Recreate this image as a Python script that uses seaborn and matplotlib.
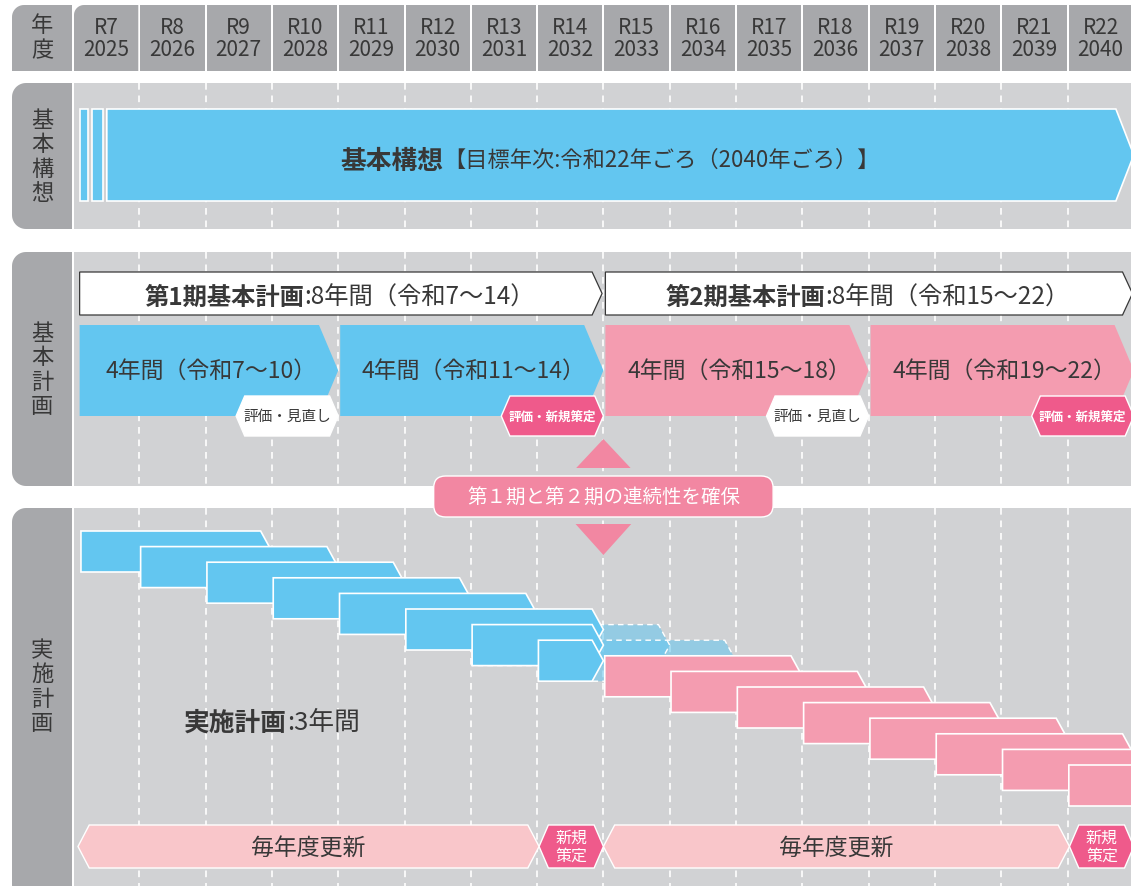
import numpy as np
import matplotlib
matplotlib.use('Agg')
import matplotlib.pyplot as plt
from matplotlib.patches import Polygon, FancyBboxPatch
import seaborn as sns

# ---- data ----
reiwa_years = list(range(7, 23))
western_years = list(range(2025, 2041))

vision_title = '基本構想'
vision_note = '【目標年次:令和22年ごろ（2040年ごろ）】'

phase_names = ['第1期基本計画', '第2期基本計画']
phase_notes = [':8年間（令和7〜14）', ':8年間（令和15〜22）']
phase_spans = [(7, 14), (15, 22)]

sub_spans = [(7, 10), (11, 14), (15, 18), (19, 22)]
sub_labels = ['4年間（令和7〜10）', '4年間（令和11〜14）', '4年間（令和15〜18）', '4年間（令和19〜22）']
sub_badges = ['評価・見直し', '評価・新規策定', '評価・見直し', '評価・新規策定']

impl_starts = list(range(7, 23))
impl_years = 3
first_period_end = 14

update_spans = [(7, 13), (15, 21)]
new_plan_years = [14, 22]

row_labels = ['基本構想', '基本計画', '実施計画']

# ---- colours ----
GRAY_DARK = '#a7a8ab'
GRAY_BG = '#d1d2d4'
BLUE = '#63c6f0'
PINK = '#f49cb0'
PINK_STRONG = '#ef5a8b'
PINK_LIGHT = '#f9c6ca'
PINK_MID = '#f287a2'
TEXT = '#383838'

sns.set_theme(style='white')
plt.rcParams['font.family'] = ['Noto Sans CJK JP', 'DejaVu Sans']

X0, CW = 73, 66.3  # pixel origin and width of one year column


def px2x(p):
    return (p - X0) / CW


def col(r):
    return r - reiwa_years[0]


fig = plt.figure(figsize=(11.31, 8.87), dpi=100)
ax = fig.add_axes([0, 0, 1, 1])
ax.set_xlim(px2x(0), px2x(1131))
ax.set_ylim(887, 0)
ax.axis('off')


def poly(pts, **kw):
    ax.add_patch(Polygon(pts, closed=True, **kw))


def pent(x0, x1, y0, y1, tip, **kw):
    ym = (y0 + y1) / 2
    poly([(x0, y0), (x1 - tip, y0), (x1, ym), (x1 - tip, y1), (x0, y1)], **kw)


def hexa(x0, x1, y0, y1, s, **kw):
    ym = (y0 + y1) / 2
    poly([(x0, ym), (x0 + s, y0), (x1 - s, y0), (x1, ym), (x1 - s, y1), (x0 + s, y1)], **kw)


def rbox(p0, p1, y0, y1, rtl=0, rbl=0, **kw):
    # rounded-left box given in pixels
    t = np.linspace(0, np.pi / 2, 12)
    pts = [(p1, y0)]
    if rtl:
        pts += list(zip(p0 + rtl - rtl * np.sin(t), y0 + rtl - rtl * np.cos(t)))
    else:
        pts.append((p0, y0))
    if rbl:
        pts += list(zip(p0 + rbl - rbl * np.cos(t), y1 - rbl + rbl * np.sin(t)))
    else:
        pts.append((p0, y1))
    pts.append((p1, y1))
    poly([(px2x(a), b) for a, b in pts], **kw)


def mixed_text(xc, y, parts, zorder=10):
    r = fig.canvas.get_renderer()
    widths = []
    for s, kw in parts:
        t = ax.text(0, y, s, **kw)
        widths.append(t.get_window_extent(r).width)
        t.remove()
    start = ax.transData.transform((xc, y))[0] - sum(widths) / 2
    for (s, kw), w in zip(parts, widths):
        xd = ax.transData.inverted().transform((start, 0))[0]
        ax.text(xd, y, s, ha='left', va='center_baseline', zorder=zorder, **kw)
        start += w


def vlabel(text, yc, step=24.5, size=16):
    n = len(text)
    for i, ch in enumerate(text):
        ax.text(px2x(42), yc + (i - (n - 1) / 2) * step, ch, ha='center', va='center',
                fontsize=size, color=TEXT, zorder=10)


# ---- header ----
rbox(12, 72, 6, 72, rtl=12, fc=GRAY_DARK, ec='none', zorder=1)
vlabel('年度', 38, step=25)
for i, (r, y) in enumerate(zip(reiwa_years, western_years)):
    rbox(X0 + i * CW + 1, X0 + (i + 1) * CW - 1, 6, 72, rtl=10 if i == 0 else 0,
         fc=GRAY_DARK, ec='none', zorder=1)
    ax.text(i + 0.5, 28, f'R{r}', ha='center', va='center', fontsize=15, color=TEXT)
    ax.text(i + 0.5, 50, str(y), ha='center', va='center', fontsize=15, color=TEXT)

# ---- panels ----
panels = [(84, 230), (253, 487), (509, 900)]
label_centres = [157, 370, 687]
for (top, bot), lab, yc in zip(panels, row_labels, label_centres):
    rbox(12, 72, top, bot, rtl=14, rbl=14, fc=GRAY_DARK, ec='none', zorder=1)
    rbox(74, 1135, top, bot, fc=GRAY_BG, ec='none', zorder=1)
    ax.vlines(range(1, 16), top, bot, colors='white', linestyles=(0, (4, 3.5)),
              lw=1.2, zorder=1.5)
    vlabel(lab, yc)

# ---- row 1: basic vision ----
vy0, vy1 = 110, 202
pent(0.51, 16.0, vy0, vy1, 0.27, fc=BLUE, ec='white', lw=1.2, zorder=2)
for a, b in [(0.106, 0.226), (0.287, 0.452)]:
    poly([(a, vy0), (b, vy0), (b, vy1), (a, vy1)], fc=BLUE, ec='white', lw=1.2, zorder=2)
mixed_text(8.1, 158, [(vision_title, dict(fontsize=18.5, fontweight='bold', color=TEXT)),
                      (vision_note, dict(fontsize=16, color=TEXT))])

# ---- row 2: basic plans ----
for k, ((a, b), name, note) in enumerate(zip(phase_spans, phase_names, phase_notes)):
    x0 = 0.1 if k == 0 else col(a) + 0.03
    x1 = min(col(b) + 1 - 0.02, 16.0)
    pent(x0, x1, 273, 316, 0.15, fc='white', ec=TEXT, lw=0.9, zorder=2)
    mixed_text((x0 + x1) / 2 - 0.02, 295,
               [(name, dict(fontsize=17.5, fontweight='bold', color=TEXT)),
                (note, dict(fontsize=17.5, color=TEXT))])

for k, ((a, b), lab, badge) in enumerate(zip(sub_spans, sub_labels, sub_badges)):
    colr = BLUE if b <= first_period_end else PINK
    x0 = 0.1 if k == 0 else col(a) + 0.03
    x1 = col(b) + 1
    pent(x0, x1, 326, 417, 0.29, fc=colr, ec='none', zorder=2)
    ax.text((x0 + x1) / 2 + 0.03, 371, lab, ha='center', va='center', fontsize=16.5,
            color=TEXT, zorder=10)
    strong = '新規' in badge
    hexa(x1 - 1.54, x1, 397, 437, 0.13, fc=PINK_STRONG if strong else 'white',
         ec='white', lw=1, zorder=3)
    ax.text(x1 - 0.77, 417, badge, ha='center', va='center',
            fontsize=9 if strong else 10.5, fontweight='bold' if strong else 'normal',
            color='white' if strong else TEXT, zorder=10)

# continuity marker
cx = col(first_period_end) + 1
poly([(cx - 0.41, 469), (cx, 440), (cx + 0.41, 469)], fc=PINK_MID, ec='none', zorder=4)
poly([(cx - 0.42, 525), (cx, 556), (cx + 0.42, 525)], fc=PINK_MID, ec='none', zorder=4)
ax.add_patch(FancyBboxPatch((cx - 2.56, 477), 5.12, 41,
                            boxstyle=f'round,pad=0,rounding_size={12 / CW}',
                            mutation_aspect=CW, fc=PINK_MID, ec='white', lw=1, zorder=4))
ax.text(cx, 497.5, '第１期と第２期の連続性を確保', ha='center', va='center',
        fontsize=14, color='white', zorder=10)

# ---- row 3: implementation plans ----
IMPL_TOP, IMPL_STEP, IMPL_H = 532, 15.6, 41
end_x = col(first_period_end) + 1
for k, s in enumerate(impl_starts):
    x0 = 0.12 if k == 0 else col(s) + 0.02
    x1 = col(s) + impl_years
    y0 = IMPL_TOP + IMPL_STEP * k
    if s <= first_period_end and x1 > end_x:
        pent(x0, x1, y0, y0 + IMPL_H, 0.17, fc=BLUE, alpha=0.55, ec='none', zorder=2)
        pent(x0, x1, y0, y0 + IMPL_H, 0.17, fc='none', ec='white', lw=1,
             ls=(0, (4, 3)), zorder=2.1)

for k, s in enumerate(impl_starts):
    x0 = 0.12 if k == 0 else col(s) + 0.02
    x1 = col(s) + impl_years
    y0 = IMPL_TOP + IMPL_STEP * k
    if s <= first_period_end:
        pent(x0, min(x1, end_x), y0, y0 + IMPL_H, 0.17, fc=BLUE, ec='white', lw=1.2,
             zorder=3 + k * 0.01)
    else:
        pent(x0, x1, y0, y0 + IMPL_H, 0.17, fc=PINK, ec='white', lw=1.2,
             zorder=3 + k * 0.01)

mixed_text(3.0, 720, [('実施計画', dict(fontsize=18.5, fontweight='bold', color=TEXT)),
                      (':3年間', dict(fontsize=18.5, color=TEXT))])

# annual update bars and new-plan badges
by0, by1 = 826, 869
for k, ((a, b), ny) in enumerate(zip(update_spans, new_plan_years)):
    x0 = 0.075 if k == 0 else col(a)
    x1 = col(b) + 1.03
    hexa(x0, x1, by0, by1, 0.17, fc=PINK_LIGHT, ec='white', lw=1, zorder=3)
    ax.text((x0 + x1) / 2, 848, '毎年度更新', ha='center', va='center', fontsize=16.5,
            color=TEXT, zorder=10)
    hexa(col(ny) + 0.03, col(ny) + 1, by0, by1, 0.14, fc=PINK_STRONG, ec='white', lw=1,
         zorder=4)
    ax.text(col(ny) + 0.52, 847.5, '新規\n策定', ha='center', va='center', fontsize=11.5,
            color='white', linespacing=1.05, zorder=10)

fig.savefig('out.png', dpi=100)
